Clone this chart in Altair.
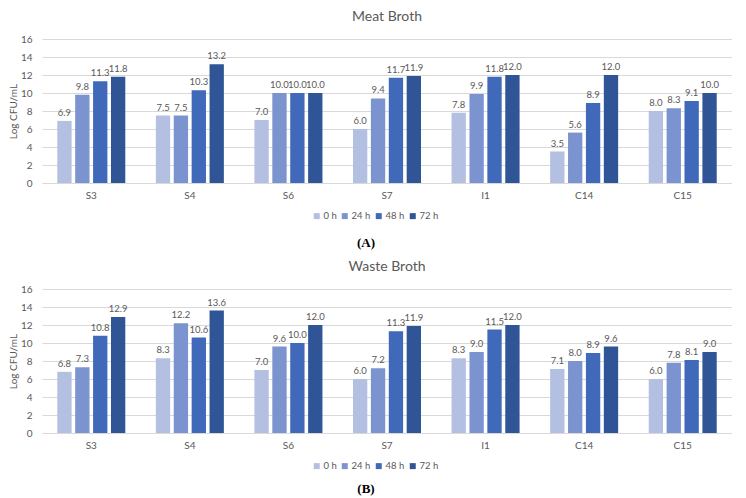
import altair as alt
import pandas as pd

strains = ["S3", "S4", "S6", "S7", "I1", "C14", "C15"]
times = ["0 h", "24 h", "48 h", "72 h"]

meat_0h = [6.9, 7.5, 7.0, 6.0, 7.8, 3.5, 8.0]
meat_24h = [9.8, 7.5, 10.0, 9.4, 9.9, 5.6, 8.3]
meat_48h = [11.3, 10.3, 10.0, 11.7, 11.8, 8.9, 9.1]
meat_72h = [11.8, 13.2, 10.0, 11.9, 12.0, 12.0, 10.0]

waste_0h = [6.8, 8.3, 7.0, 6.0, 8.3, 7.1, 6.0]
waste_24h = [7.3, 12.2, 9.6, 7.2, 9.0, 8.0, 7.8]
waste_48h = [10.8, 10.6, 10.0, 11.3, 11.5, 8.9, 8.1]
waste_72h = [12.9, 13.6, 12.0, 11.9, 12.0, 9.6, 9.0]

y_ticks = [0, 2, 4, 6, 8, 10, 12, 14, 16]
colors = ["#b4c0e1", "#7b93cf", "#4169ba", "#2f5597"]
GRAY = "#595959"


def make_df(series_list):
    rows = []
    for t, series in zip(times, series_list):
        for s, v in zip(strains, series):
            rows.append({"strain": s, "time": t, "value": v})
    return pd.DataFrame(rows)


def panel(df, title, tag, tag_y):
    base = alt.Chart(df)
    x = alt.X("strain:N", sort=strains,
              scale=alt.Scale(paddingInner=0.31, paddingOuter=0.155),
              axis=alt.Axis(title=None, labelAngle=0, ticks=False, domain=True,
                            domainColor="#d9d9d9", labelColor=GRAY, labelFontSize=10,
                            labelPadding=7, grid=False))
    xo = alt.XOffset("time:N", sort=times, scale=alt.Scale(paddingInner=0.2))
    y = alt.Y("value:Q", scale=alt.Scale(domain=[0, 16], nice=False),
              axis=alt.Axis(values=y_ticks, title="Log CFU/mL", grid=True,
                            gridColor="#d9d9d9", domain=False, ticks=False,
                            labelColor=GRAY, labelFontSize=10, labelPadding=10,
                            titleColor=GRAY, titleFontSize=10, titleFontWeight="normal",
                            titlePadding=2))
    color = alt.Color("time:N", sort=times,
                      scale=alt.Scale(domain=times, range=colors),
                      legend=alt.Legend(title=None, orient="none", legendX=270, legendY=172,
                                        direction="horizontal", symbolType="square",
                                        symbolSize=36, symbolStrokeWidth=0,
                                        labelFontSize=9.5, labelColor=GRAY,
                                        columnPadding=3, labelOffset=2))
    bars = base.mark_bar().encode(x=x, xOffset=xo, y=y, color=color)
    labels = base.mark_text(baseline="bottom", dy=-3, fontSize=9.5, color=GRAY).encode(
        x=x, xOffset=xo, y=y, text=alt.Text("value:Q", format=".1f"))
    tag_chart = alt.Chart(pd.DataFrame({"t": [tag]})).mark_text(
        font="Liberation Serif", fontWeight="bold", fontSize=13, color="black",
        baseline="middle").encode(text="t:N", x=alt.value(324), y=alt.value(tag_y))
    return alt.layer(bars, labels, tag_chart).properties(
        width=690, height=144,
        title=alt.TitleParams(title, fontSize=14, fontWeight="normal", color=GRAY,
                              anchor="middle", offset=10))


meat = panel(make_df([meat_0h, meat_24h, meat_48h, meat_72h]), "Meat Broth", "(A)", 204)
waste = panel(make_df([waste_0h, waste_24h, waste_48h, waste_72h]), "Waste Broth", "(B)", 200)

chart = alt.vconcat(meat, waste, spacing=10).resolve_legend(color="independent").properties(
    padding={"left": 0, "top": 2, "right": 0, "bottom": 0}, background="white"
).configure(font="Lato").configure_view(stroke=None)

chart.save("out.html", embed_options={"renderer": "svg", "actions": False})
